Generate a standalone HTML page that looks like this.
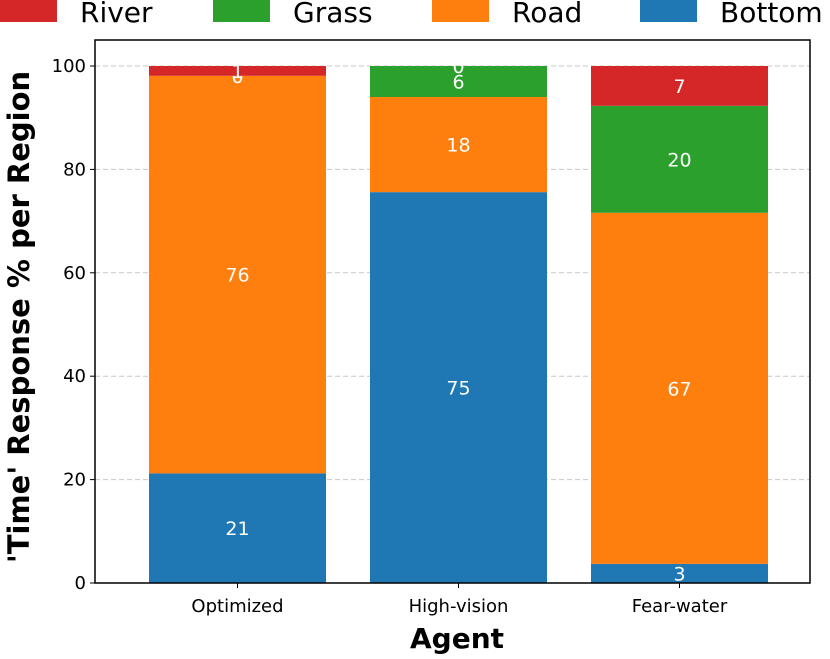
<!DOCTYPE html>
<html><head><meta charset="utf-8"><style>
body{margin:0;background:#fff;width:830px;height:655px;overflow:hidden;font-family:"DejaVu Sans","Liberation Sans",sans-serif}
</style></head><body>
<svg id="c" width="830" height="655" xmlns="http://www.w3.org/2000/svg"></svg>
<script>
const categories=["Optimized","High-vision","Fear-water"];
const bottomVals=[21.2,75.6,3.7];
const roadVals=[76.9,18.4,67.9];
const grassVals=[0,6.0,20.7];
const riverVals=[1.9,0,7.7];
const yTicks=[0,20,40,60,80,100];
const seriesNames=["Bottom","Road","Grass","River"];
const colors=["#1f77b4","#ff7f0e","#2ca02c","#d62728"];
const NS="http://www.w3.org/2000/svg";
const svg=document.getElementById('c');
const L=95,R=810,T=40,B=583;
const y=v=>B-(v/100)*(583-66);
const bw=177;
const xc=i=>237.5+i*221;
function el(t,a,p){const e=document.createElementNS(NS,t);for(const k in a)e.setAttribute(k,a[k]);(p||svg).appendChild(e);return e;}
function txt(s,a){const e=el('text',a);e.textContent=s;return e;}
yTicks.forEach(v=>{
const g=el('line',{x1:L,x2:R,y1:y(v),y2:y(v),stroke:'#c8c8c8','stroke-dasharray':'5,3'});


const t=el('line',{x1:L-5,x2:L,y1:y(v),y2:y(v),stroke:'#000'});


const l=txt(v,{x:L-9,y:y(v)+6,'text-anchor':'end','font-size':18});


});
const series=[bottomVals,roadVals,grassVals,riverVals];
categories.forEach((c,i)=>{
let base=0;
series.forEach((s,k)=>{
const v=s[i];
const r=el('rect',{x:xc(i)-bw/2,y:y(base+v),width:bw,height:y(base)-y(base+v),fill:colors[k]});


const lb=txt(Math.floor(v),{x:xc(i),y:y(base+v/2)+7,'text-anchor':'middle','font-size':19,fill:'#fff'});


base+=v;
});
const t=el('line',{x1:xc(i),x2:xc(i),y1:B,y2:B+5,stroke:'#000'});


const l=txt(c,{x:xc(i),y:612,'text-anchor':'middle','font-size':18});


});
const fr=el('rect',{x:L,y:T,width:R-L,height:B-T,fill:'none',stroke:'#000','stroke-width':1.5});


const xt=txt('Agent',{x:457,y:648,'text-anchor':'middle','font-size':28,'font-weight':'bold'});


const yt=txt("'Time' Response % per Region",{x:0,y:0,'text-anchor':'middle','font-size':29,'font-weight':'bold',transform:'translate(29,317) rotate(-90)'});


const leg=[["River",0,"#d62728"],["Grass",213,"#2ca02c"],["Road",432,"#ff7f0e"],["Bottom",640,"#1f77b4"]];
leg.forEach(([n,x,col])=>{
const g=el('g',{});


el('rect',{x:x,y:0,width:57,height:22,fill:col},g);
const t=el('text',{x:x+80,y:22,'font-size':28},g);t.textContent=n;
});
</script>
</body></html>
